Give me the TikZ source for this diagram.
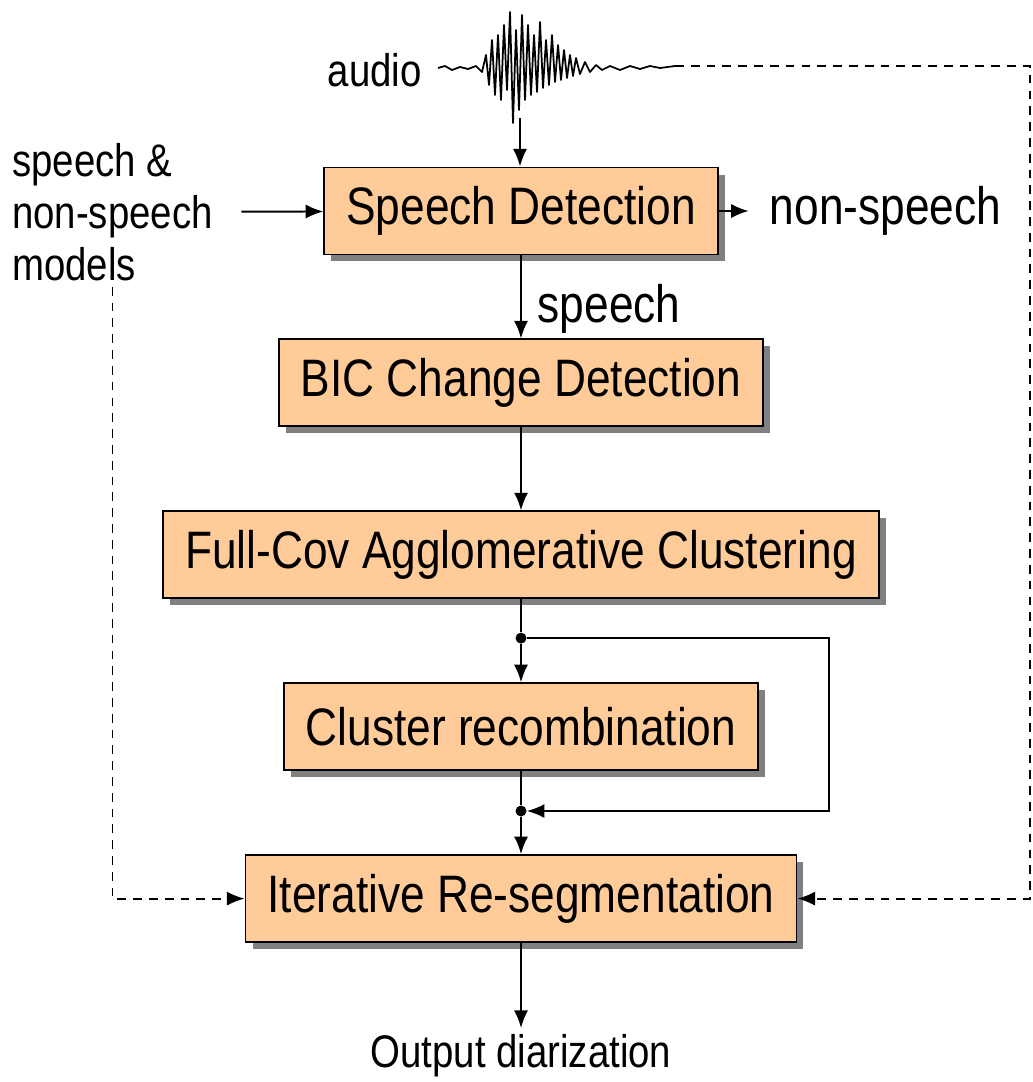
\documentclass[tikz,border=0pt]{standalone}
\usepackage{fontspec}
\setmainfont{Liberation Sans}[FakeStretch=0.84]
\usetikzlibrary{arrows.meta, positioning, calc, shadows}
\definecolor{boxfill}{HTML}{FFCC99}

\begin{document}
\begin{tikzpicture}[
    x=0.02cm, y=-0.02cm,
    node distance=1.66cm,
    block/.style={rectangle, draw, fill=boxfill, line width=1.1pt, minimum height=1.74cm, inner xsep=0.44cm, font=\fontsize{30}{36}\selectfont,
        drop shadow={shadow xshift=0.14cm, shadow yshift=-0.14cm, fill=black!50, opacity=1}},
    note/.style={font=\fontsize{26}{29.5}\selectfont},
    bignote/.style={font=\fontsize{30}{36}\selectfont},
    arrow/.style={-{Latex[length=10pt, width=8pt]}, line width=1.1pt},
    dline/.style={arrow, dash pattern=on 5pt off 4pt},
    dot/.style={circle, fill, inner sep=0pt, minimum size=0.22cm}
]
    \useasboundingbox (0,0) rectangle (1033,1082);

    \node[block] (sd) at (521,211) {Speech Detection};
    \node[block, below=of sd] (bic) {BIC Change Detection};
    \node[block, below=of bic] (fc) {Full-Cov Agglomerative Clustering};
    \node[block, below=of fc] (cr) {Cluster recombination};
    \node[block, below=of cr] (ir) {Iterative Re-segmentation};
    \node[dot, below=0.66cm of fc] (d1) {};
    \node[dot, below=0.68cm of cr] (d2) {};
    \node[note, below=1.7cm of ir] (out) {Output diarization};
    \node[bignote, right=0.9cm of sd] (ns) {non-speech};
    \node[note, align=left, anchor=west] (mod) at (6,212) {speech \&\\non-speech\\models};
    \node[note, anchor=east] (aud) at (428,70) {audio};

    % Waveform
    \draw[line width=1pt, line join=round] plot coordinates {
        (438,68) (445,66) (452,70) (460,67) (468,69) (476,66) (482,72)
        (486,55) (489,85) (492,40) (495,95) (498,35) (501,100) (504,25)
        (507,90) (510,12) (513,123) (516,30) (519,110) (522,15) (525,100)
        (528,25) (531,95) (534,35) (537,92) (540,22) (543,88) (546,40)
        (549,85) (552,35) (555,82) (558,45) (561,80) (564,50) (567,78)
        (570,55) (573,76) (576,58) (580,74) (585,62) (590,72) (596,65)
        (602,70) (610,66) (620,70) (630,66) (640,69) (650,66) (660,68) (675,66)};
    \coordinate (wav) at (520,118);
    \coordinate (wend) at (675,66);

    % Main path
    \draw[arrow] (wav) -- (wav |- sd.north);
    \draw[arrow, shorten <=0.45cm] (mod) -- (sd);
    \draw[arrow, shorten >=0.3cm] (sd) -- (ns);
    \draw[arrow] (sd) -- node[bignote, right=0.2cm, pos=0.64] (sp) {speech} (bic);
    \draw[arrow] (bic) -- (fc);
    \draw[line width=1.1pt] (fc) -- (d1);
    \draw[arrow] (d1) -- (cr);
    \draw[line width=1.1pt] (cr) -- (d2);
    \draw[arrow] (d2) -- (ir);
    \draw[arrow] (ir) -- (out);

    % Recombination loop
    \draw[arrow] (d1) -- ++(308,0) |- (d2);

    % Model and audio feeds
    \draw[dline] (wend) -- ++(355,0) |- (ir);
    \draw[dline] (mod) |- (ir);
\end{tikzpicture}
\end{document}
